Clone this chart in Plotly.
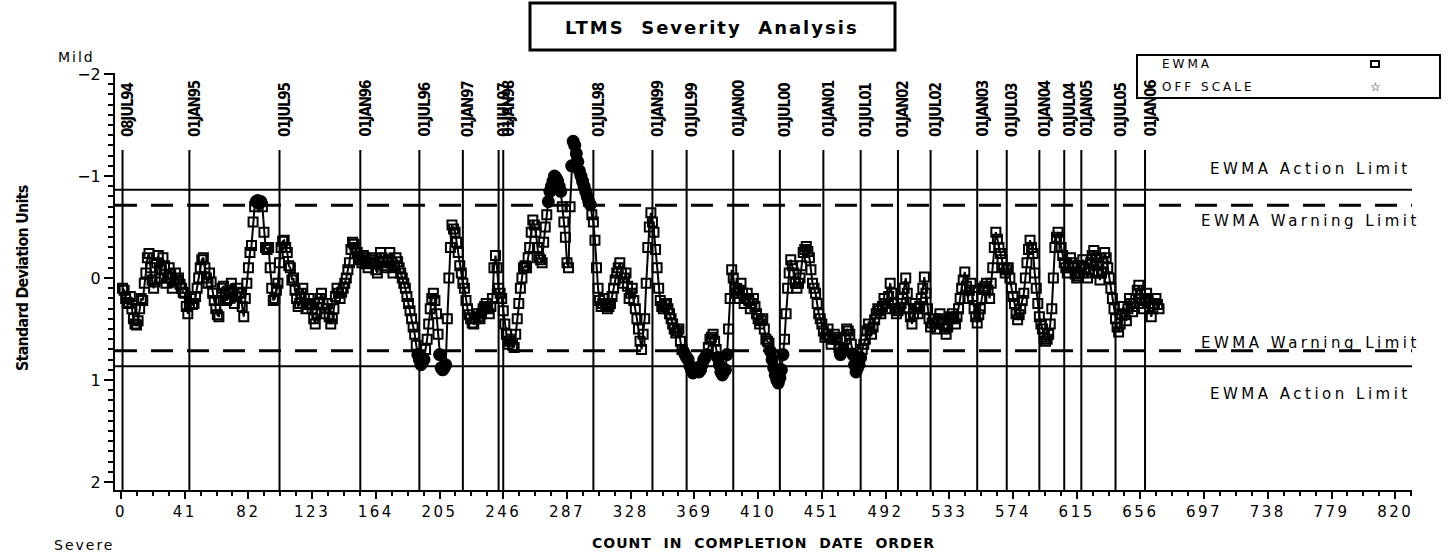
import plotly.graph_objects as go

# ---------------- data ----------------
# EWMA value of every test, in completion date order
ewma = [
    0.10, 0.12, 0.20, 0.24, 0.25, 0.18, 0.30, 0.40, 0.45, 0.46, 0.42, 0.30, 0.20, 0.22, 0.05, -0.05, -0.20, -0.24, -0.10, 0.02,
    0.10, 0.04, -0.15, -0.22, 0.00, -0.08, -0.20, -0.12, 0.05, 0.00, -0.10, -0.04, 0.10, 0.04, -0.05, 0.02, 0.00, 0.06, 0.10, 0.14,
    0.15, 0.28, 0.35, 0.25, 0.20, 0.26, 0.25, 0.18, 0.10, 0.00, -0.10, -0.18, -0.20, -0.10, 0.00, 0.05, -0.05, 0.04, 0.15, 0.22,
    0.30, 0.36, 0.38, 0.22, 0.10, 0.08, 0.15, 0.22, 0.20, 0.12, 0.05, 0.15, 0.25, 0.18, 0.10, 0.14, 0.15, 0.28, 0.38, 0.20,
    0.05, -0.10, -0.25, -0.32, -0.55, -0.70, -0.75, -0.76, -0.73, -0.75, -0.70, -0.45, -0.30, -0.28, -0.30, -0.10, 0.10, 0.22, 0.20, 0.12,
    0.05, -0.15, -0.30, -0.36, -0.37, -0.30, -0.25, -0.12, -0.10, 0.02, 0.00, 0.12, 0.20, 0.28, 0.25, 0.15, 0.10, 0.20, 0.30, 0.26,
    0.20, 0.25, 0.30, 0.40, 0.45, 0.35, 0.25, 0.20, 0.15, 0.25, 0.35, 0.30, 0.25, 0.38, 0.45, 0.40, 0.30, 0.18, 0.10, 0.15,
    0.20, 0.14, 0.10, 0.05, 0.00, -0.08, -0.15, -0.28, -0.35, -0.33, -0.30, -0.25, -0.20, -0.18, -0.15, -0.22, -0.20, -0.14, -0.10, -0.16,
    -0.20, -0.18, -0.15, -0.08, -0.05, -0.15, -0.25, -0.20, -0.15, -0.12, -0.10, -0.18, -0.25, -0.15, -0.05, -0.12, -0.20, -0.16, -0.10, -0.05,
    0.00, 0.05, 0.10, 0.18, 0.25, 0.32, 0.40, 0.48, 0.55, 0.66, 0.75, 0.80, 0.85, 0.82, 0.80, 0.70, 0.60, 0.45, 0.30, 0.20,
    0.15, 0.22, 0.35, 0.55, 0.75, 0.88, 0.90, 0.88, 0.85, 0.40, 0.00, -0.30, -0.52, -0.48, -0.45, -0.35, -0.25, -0.12, -0.05, 0.05,
    0.10, 0.22, 0.30, 0.36, 0.40, 0.44, 0.45, 0.40, 0.35, 0.38, 0.40, 0.35, 0.30, 0.28, 0.25, 0.30, 0.35, 0.28, 0.20, -0.10,
    -0.22, -0.10, 0.10, 0.15, 0.20, 0.32, 0.45, 0.55, 0.65, 0.62, 0.60, 0.66, 0.68, 0.55, 0.40, 0.25, 0.10, 0.00, -0.10, -0.12,
    -0.10, -0.20, -0.30, -0.45, -0.57, -0.52, -0.45, -0.30, -0.20, -0.18, -0.15, -0.35, -0.50, -0.62, -0.75, -0.85, -0.90, -0.95, -1.00, -0.98,
    -0.95, -0.90, -0.85, -0.70, -0.55, -0.40, -0.15, -0.10, -0.70, -1.10, -1.34, -1.30, -1.22, -1.14, -1.05, -1.00, -0.95, -0.90, -0.85, -0.80,
    -0.75, -0.72, -0.62, -0.55, -0.37, -0.10, 0.10, 0.22, 0.28, 0.25, 0.20, 0.26, 0.30, 0.28, 0.25, 0.18, 0.10, 0.02, -0.05, -0.10,
    -0.15, -0.05, 0.05, 0.00, -0.05, 0.08, 0.20, 0.15, 0.10, 0.22, 0.30, 0.40, 0.50, 0.62, 0.70, 0.55, 0.40, 0.05, -0.30, -0.50,
    -0.64, -0.55, -0.45, -0.28, -0.10, 0.10, 0.22, 0.28, 0.30, 0.26, 0.25, 0.30, 0.35, 0.40, 0.45, 0.50, 0.54, 0.52, 0.50, 0.62,
    0.70, 0.72, 0.75, 0.78, 0.80, 0.86, 0.90, 0.93, 0.92, 0.90, 0.88, 0.92, 0.90, 0.85, 0.80, 0.78, 0.75, 0.68, 0.60, 0.58,
    0.55, 0.62, 0.70, 0.78, 0.85, 0.92, 0.95, 0.92, 0.90, 0.75, 0.50, 0.20, -0.08, 0.00, 0.10, 0.15, 0.20, 0.12, 0.05, 0.15,
    0.25, 0.20, 0.15, 0.22, 0.30, 0.25, 0.20, 0.28, 0.35, 0.40, 0.45, 0.42, 0.40, 0.50, 0.60, 0.62, 0.64, 0.72, 0.80, 0.88,
    0.95, 1.00, 1.03, 0.98, 0.90, 0.75, 0.60, 0.35, 0.10, -0.05, -0.18, -0.12, -0.05, 0.05, 0.10, 0.05, 0.00, -0.12, -0.25, -0.28,
    -0.31, -0.26, -0.20, -0.08, 0.05, 0.10, 0.15, 0.25, 0.35, 0.40, 0.45, 0.52, 0.58, 0.55, 0.50, 0.58, 0.65, 0.60, 0.55, 0.58,
    0.60, 0.68, 0.75, 0.72, 0.70, 0.60, 0.50, 0.52, 0.55, 0.65, 0.75, 0.85, 0.92, 0.88, 0.85, 0.78, 0.70, 0.65, 0.60, 0.52,
    0.45, 0.50, 0.55, 0.48, 0.41, 0.35, 0.30, 0.32, 0.35, 0.28, 0.20, 0.25, 0.30, 0.18, 0.05, 0.15, 0.25, 0.30, 0.35, 0.32,
    0.30, 0.25, 0.20, 0.10, 0.00, 0.15, 0.30, 0.38, 0.45, 0.35, 0.25, 0.30, 0.35, 0.28, 0.20, 0.10, -0.01, 0.15, 0.30, 0.40,
    0.48, 0.44, 0.40, 0.45, 0.50, 0.42, 0.35, 0.40, 0.45, 0.50, 0.55, 0.48, 0.40, 0.38, 0.35, 0.40, 0.45, 0.38, 0.30, 0.20,
    0.10, 0.02, -0.06, 0.08, 0.20, 0.12, 0.05, 0.18, 0.30, 0.38, 0.44, 0.36, 0.30, 0.20, 0.10, 0.08, 0.05, 0.12, 0.20, 0.05,
    -0.10, -0.30, -0.45, -0.38, -0.30, -0.24, -0.18, -0.10, -0.05, -0.08, -0.10, 0.00, 0.10, 0.18, 0.25, 0.35, 0.41, 0.36, 0.30, 0.22,
    0.15, 0.00, -0.15, -0.28, -0.37, -0.30, -0.24, -0.05, 0.10, 0.25, 0.38, 0.45, 0.50, 0.58, 0.62, 0.60, 0.55, 0.45, 0.30, 0.00,
    -0.30, -0.40, -0.45, -0.38, -0.30, -0.22, -0.15, -0.10, -0.05, -0.12, -0.20, -0.15, -0.10, -0.04, 0.00, -0.02, -0.05, -0.12, -0.18, -0.10,
    -0.05, 0.00, -0.08, -0.15, -0.22, -0.27, -0.20, -0.12, -0.05, 0.02, -0.05, -0.15, -0.25, -0.20, -0.10, 0.00, 0.10, 0.20, 0.30, 0.40,
    0.48, 0.53, 0.45, 0.35, 0.28, 0.36, 0.42, 0.30, 0.20, 0.25, 0.33, 0.28, 0.20, 0.12, 0.07, 0.15, 0.25, 0.30, 0.22, 0.15,
    0.20, 0.28, 0.38, 0.30, 0.25, 0.20, 0.26, 0.30,
]
count = list(range(1, len(ewma) + 1))

date_labels = ["08JUL94", "01JAN95", "01JUL95", "01JAN96", "01JUL96", "01JAN97",
               "01JUL97", "01JAN98", "01JUL98", "01JAN99", "01JUL99", "01JAN00",
               "01JUL00", "01JAN01", "01JUL01", "01JAN02", "01JUL02", "01JAN03",
               "01JUL03", "01JAN04", "01JUL04", "01JAN05", "01JUL05", "01JAN06"]
date_counts = [1, 44, 102, 154, 192, 220, 243, 246, 304, 342, 364, 394,
               424, 452, 476, 500, 521, 551, 570, 591, 607, 618, 640, 659]

action_limit = 0.866
warning_limit = 0.714
x_ticks = list(range(0, 821, 41))
y_ticks = [-2, -1, 0, 1, 2]

# ---------------- layout geometry ----------------
W, H = 1448, 554
L, R, T, B = 115, 1412, 73, 490


def pxx(xp):
    return (xp - L) / (R - L)


def pxy(yp):
    return (B - yp) / (B - T)


FONT = "DejaVu Sans"
COND = "DejaVu Sans Condensed, Liberation Sans Narrow, sans-serif"

sym = ["circle" if abs(v) > warning_limit else "square-open" for v in ewma]
sizes = [11 if abs(v) > warning_limit else 9 for v in ewma]

fig = go.Figure()
fig.add_trace(go.Scatter(
    x=count, y=ewma, mode="lines+markers",
    line=dict(color="black", width=2),
    marker=dict(symbol=sym, size=sizes, color="black", opacity=1,
                line=dict(color="black", width=2)),
    showlegend=False, hoverinfo="x+y"))

shapes = []
for v in (-action_limit, action_limit):
    shapes.append(dict(type="line", xref="paper", yref="y", x0=0, x1=1, y0=v, y1=v,
                       line=dict(color="black", width=2)))
for v in (-warning_limit, warning_limit):
    shapes.append(dict(type="line", xref="paper", yref="y", x0=0, x1=1, y0=v, y1=v,
                       line=dict(color="black", width=3, dash="22px,14px")))
for c in date_counts:
    shapes.append(dict(type="line", xref="x", yref="y", x0=c, x1=c, y0=-1.255, y1=2.078,
                       line=dict(color="black", width=2)))
# title box
shapes.append(dict(type="rect", xref="paper", yref="paper",
                   x0=pxx(530), x1=pxx(895), y0=pxy(50), y1=pxy(3),
                   line=dict(color="black", width=3)))
# legend box
shapes.append(dict(type="rect", xref="paper", yref="paper",
                   x0=pxx(1137), x1=pxx(1440), y0=pxy(98), y1=pxy(55),
                   line=dict(color="black", width=2)))
# legend square symbol
shapes.append(dict(type="rect", xref="paper", yref="paper",
                   x0=pxx(1371), x1=pxx(1379), y0=pxy(67), y1=pxy(61),
                   line=dict(color="black", width=2)))


def sp(t, ls):
    return f'<span style="letter-spacing:{ls}px">{t}</span>'


ann = []
for lab, c in zip(date_labels, date_counts):
    ann.append(dict(x=c, y=-1.255, xref="x", yref="y", text="<b>" + sp(lab, -1.2) + "</b>",
                    textangle=-90, showarrow=False, yanchor="bottom", xanchor="center",
                    xshift=5, yshift=11,
                    font=dict(family=COND, size=15, color="black")))


def txt(xp, yp, text, size, family=FONT, xanchor="center", angle=0):
    return dict(x=pxx(xp), y=pxy(yp), xref="paper", yref="paper", showarrow=False,
                xanchor=xanchor, yanchor="middle", text=text, textangle=angle,
                font=dict(family=family, size=size, color="black"))


ann += [
    txt(712, 27, "<b>" + sp("LTMS  Severity  Analysis", 2) + "</b>", 18),
    txt(1160, 64, sp("EWMA", 3), 12, xanchor="left"),
    txt(1160, 87, sp("OFF SCALE", 3), 12, xanchor="left"),
    txt(1375, 87, "☆", 12),
    txt(1413, 169, sp("EWMA Action Limit", 3.5), 15, xanchor="right"),
    txt(1422, 221, sp("EWMA Warning Limit", 3.5), 15, xanchor="right"),
    txt(1422, 343, sp("EWMA Warning Limit", 3.5), 15, xanchor="right"),
    txt(1413, 394, sp("EWMA Action Limit", 3.5), 15, xanchor="right"),
    txt(76, 57, sp("Mild", 2), 14),
    txt(84, 545, sp("Severe", 2), 14),
    txt(22, 278, "<b>" + sp("Standard Deviation Units", -0.8) + "</b>", 16, family=COND, angle=-90),
    txt(763, 543, "<b>" + sp("COUNT  IN  COMPLETION  DATE  ORDER", 1) + "</b>", 14),
]

fig.update_layout(
    width=W, height=H,
    margin=dict(l=L, r=W - R, t=T, b=H - B, pad=0),
    paper_bgcolor="white", plot_bgcolor="white",
    shapes=shapes, annotations=ann,
    xaxis=dict(range=[-3.86, 830.8], tickvals=x_ticks,
               ticktext=[sp(str(t), 2.5) for t in x_ticks],
               ticks="outside", ticklen=7, tickwidth=2, tickcolor="black",
               showline=True, linewidth=2, linecolor="black",
               showgrid=False, zeroline=False,
               tickfont=dict(family=FONT, size=15, color="black"),
               minor=dict(dtick=10.25, tick0=0, ticks="outside", ticklen=4,
                          tickwidth=2, tickcolor="black")),
    yaxis=dict(range=[2.078, -2.01], tickvals=y_ticks,
               ticktext=["−2", "−1", "0", "1", "2"],
               ticks="outside", ticklen=9, tickwidth=2, tickcolor="black",
               showline=True, linewidth=2, linecolor="black",
               showgrid=False, zeroline=False,
               tickfont=dict(family=FONT, size=16, color="black"),
               minor=dict(dtick=0.1, tick0=0, ticks="outside", ticklen=5,
                          tickwidth=2, tickcolor="black")),
)

fig.write_html("out.html", config={"displayModeBar": False},
               post_script="document.body.style.margin='0px';")
